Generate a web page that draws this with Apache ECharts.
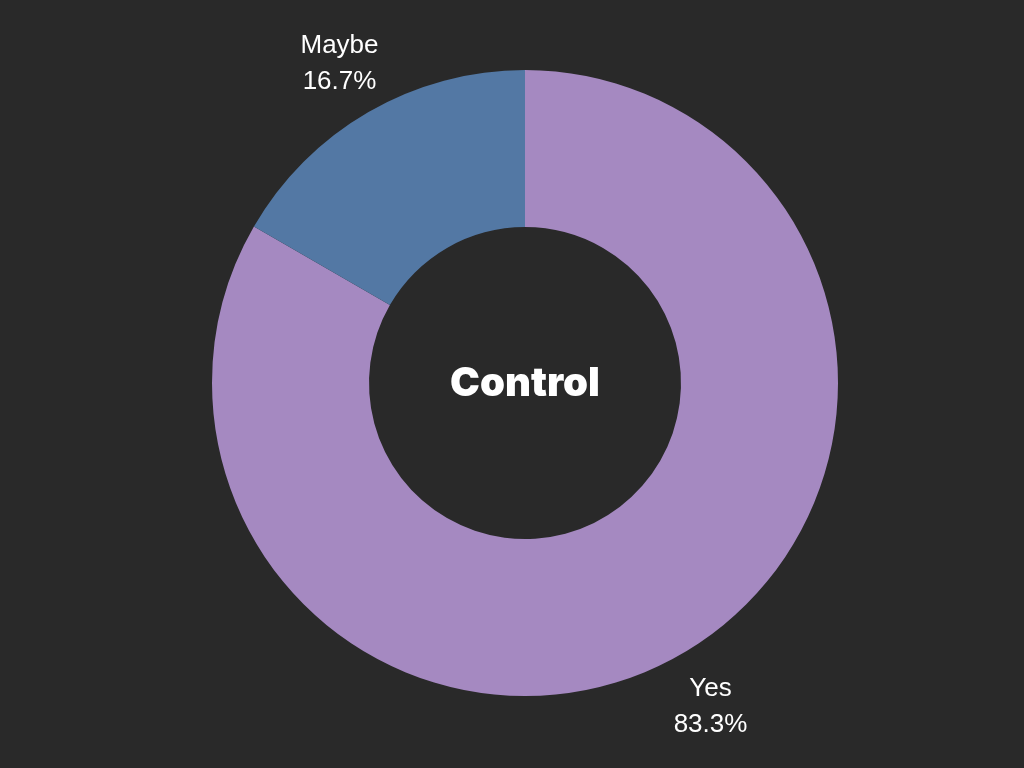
<!DOCTYPE html>
<html>
<head>
<meta charset="utf-8">
<script src="https://cdn.jsdelivr.net/npm/echarts@6/dist/echarts.min.js"></script>
<style>
html,body{margin:0;padding:0;background:#292929;}
#chart{width:1024px;height:768px;}
</style>
</head>
<body>
<div id="chart"></div>
<script>
const categories = ['Yes', 'Maybe'];
const values = [5, 1];
const colors = ['#a589c1', '#5378a4'];
const centerTitle = 'Control';

const data = categories.map((c, i) => ({ name: c, value: values[i], itemStyle: { color: colors[i] } }));
const labelData = categories.map((c, i) => ({ name: c, value: values[i] }));

const chart = echarts.init(document.getElementById('chart'));
chart.setOption({
  backgroundColor: '#292929',
  animation: false,
  title: {
    text: centerTitle,
    left: 520,
    top: 'middle',
    textAlign: 'center',
    textStyle: { color: '#ffffff', fontFamily: 'Inter', fontWeight: 900, fontSize: 40 }
  },
  series: [
    {
      type: 'pie',
      center: [525, 383],
      radius: [156, 313],
      startAngle: 90,
      clockwise: true,
      silent: true,
      label: { show: false },
      labelLine: { show: false },
      data: data
    },
    {
      type: 'pie',
      center: [525, 385.5],
      radius: [309, 427],
      startAngle: 90,
      clockwise: true,
      silent: true,
      itemStyle: { color: 'rgba(0,0,0,0)' },
      label: {
        show: true,
        position: 'inside',
        formatter: p => p.name + '\n' + p.percent.toFixed(1) + '%',
        color: '#ffffff',
        fontFamily: 'Liberation Sans',
        fontSize: 26,
        lineHeight: 36
      },
      labelLine: { show: false },
      data: labelData
    }
  ]
});
</script>
</body>
</html>
